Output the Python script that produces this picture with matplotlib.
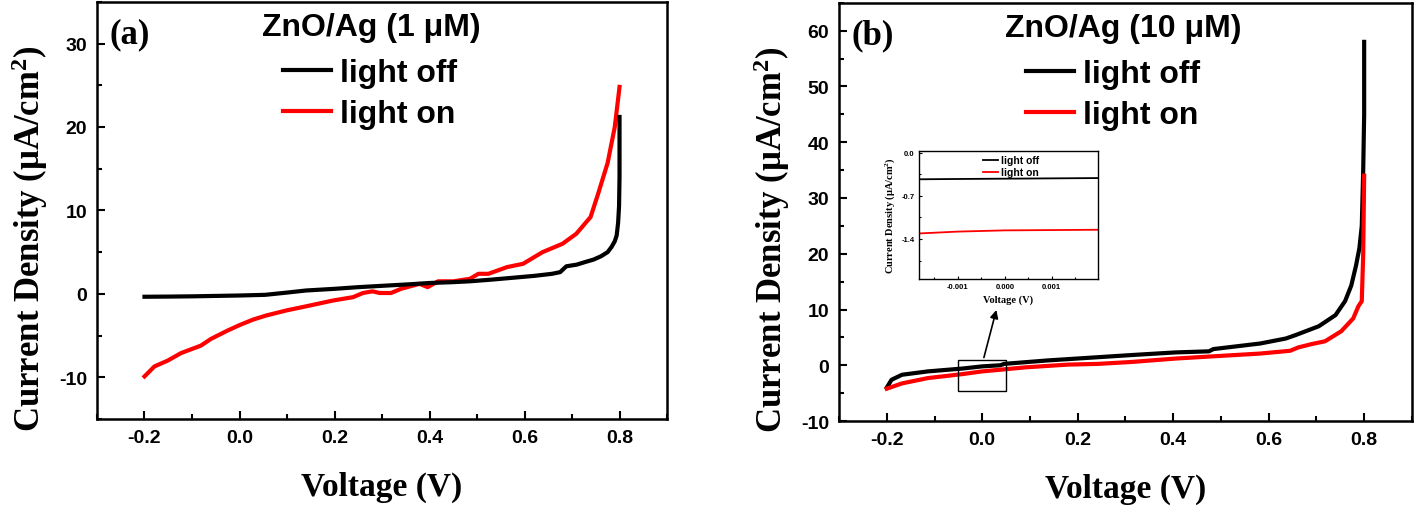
import matplotlib
matplotlib.use("Agg")
import matplotlib.pyplot as plt
from matplotlib.ticker import MultipleLocator, FormatStrFormatter
from matplotlib.patches import Rectangle

plt.rcParams['font.family'] = ['Liberation Sans', 'DejaVu Sans']
plt.rcParams['font.weight'] = 'bold'
plt.rcParams['axes.unicode_minus'] = False
plt.rcParams['mathtext.fontset'] = 'custom'
plt.rcParams['mathtext.rm'] = 'Liberation Serif:bold'
plt.rcParams['mathtext.it'] = 'Liberation Serif:bold'
plt.rcParams['mathtext.bf'] = 'Liberation Serif:bold'

# ---- panel (a): ZnO/Ag 1 uM ----
a_off_v = [-0.2, -0.15, -0.1, -0.05, 0.0, 0.054, 0.1, 0.14, 0.2, 0.25, 0.313, 0.36, 0.4, 0.45, 0.485,
           0.53, 0.57, 0.62, 0.658, 0.675, 0.688, 0.71, 0.727, 0.745, 0.761, 0.775, 0.783, 0.79,
           0.794, 0.797, 0.799, 0.8, 0.8]
a_off_j = [-0.35, -0.33, -0.3, -0.25, -0.2, -0.12, 0.15, 0.4, 0.6, 0.8, 1.0, 1.15, 1.3, 1.4, 1.5,
           1.7, 1.9, 2.15, 2.4, 2.6, 3.3, 3.5, 3.8, 4.1, 4.5, 5.0, 5.6, 6.3,
           7.0, 8.5, 10.5, 14.0, 21.2]
a_on_v = [-0.2, -0.179, -0.151, -0.123, -0.081, -0.06, -0.025, 0.0, 0.028, 0.056, 0.098, 0.14,
          0.197, 0.239, 0.26, 0.28, 0.295, 0.319, 0.34, 0.379, 0.396, 0.418, 0.45, 0.485, 0.503,
          0.524, 0.563, 0.597, 0.638, 0.68, 0.709, 0.739, 0.755, 0.775, 0.79, 0.8]
a_on_j = [-9.9, -8.7, -8.0, -7.1, -6.2, -5.4, -4.4, -3.75, -3.1, -2.6, -2.0, -1.5,
          -0.8, -0.4, 0.1, 0.3, 0.1, 0.1, 0.6, 1.2, 0.8, 1.5, 1.5, 1.8, 2.4,
          2.4, 3.2, 3.6, 5.0, 6.0, 7.2, 9.2, 12.0, 15.7, 20.0, 24.8]

# ---- panel (b): ZnO/Ag 10 uM ----
b_off_v = [-0.2, -0.19, -0.168, -0.114, -0.043, 0.0, 0.038, 0.046, 0.136, 0.225, 0.314, 0.404,
           0.475, 0.484, 0.582, 0.636, 0.656, 0.705, 0.74, 0.76, 0.773, 0.783, 0.79, 0.795,
           0.798, 0.8, 0.8]
b_off_j = [-4.0, -2.6, -1.7, -1.1, -0.6, -0.2, 0.0, 0.25, 0.86, 1.35, 1.84, 2.3,
           2.5, 2.9, 3.9, 4.8, 5.4, 7.0, 9.0, 11.5, 14.3, 17.9, 21.0, 25.0,
           35.0, 45.0, 58.0]
b_on_v = [-0.2, -0.168, -0.114, -0.043, 0.0, 0.091, 0.18, 0.243, 0.314, 0.404, 0.493, 0.582,
          0.62, 0.645, 0.662, 0.69, 0.718, 0.752, 0.777, 0.788, 0.795, 0.798, 0.8]
b_on_j = [-4.2, -3.25, -2.3, -1.6, -1.1, -0.37, 0.12, 0.25, 0.6, 1.2, 1.65, 2.1,
          2.4, 2.6, 3.2, 3.8, 4.3, 6.1, 8.4, 10.6, 11.5, 20.0, 34.0]

# ---- inset (zoom around 0 V of panel b) ----
in_v = [-0.00183, -0.001, 0.0, 0.001, 0.00198]
in_off_j = [-0.43, -0.425, -0.42, -0.415, -0.41]
in_on_j = [-1.31, -1.28, -1.26, -1.255, -1.25]

zoom_box = [-0.05, -4.6, 0.1, 5.5]      # x0, y0, width, height in data units
arrow_tail = (0.002, 0.9)
arrow_head = (0.031, 10.4)

titles = ['ZnO/Ag (1 μM)', 'ZnO/Ag (10 μM)']
panel_tags = ['(a)', '(b)']
labels = ['light off', 'light on']
colors = ['black', '#ff0000']

SERIF = 'Liberation Serif'
YLABEL = 'Current Density (μA/cm$^{2}$)'

fig = plt.figure(figsize=(14.18, 5.10), dpi=100)
ax_a = fig.add_axes([0.0684, 0.1765, 0.402, 0.818])
ax_b = fig.add_axes([0.5917, 0.1725, 0.404, 0.820])


def style_axes(ax, ylim, ymajor, yminor):
    ax.set_xlim(-0.3, 0.9)
    ax.set_ylim(*ylim)
    ax.xaxis.set_major_locator(MultipleLocator(0.2))
    ax.xaxis.set_minor_locator(MultipleLocator(0.1))
    ax.yaxis.set_major_locator(MultipleLocator(ymajor))
    ax.yaxis.set_minor_locator(MultipleLocator(yminor))
    ax.xaxis.set_major_formatter(FormatStrFormatter('%.1f'))
    ax.tick_params(which='both', direction='in', width=1.5, labelsize=14, pad=7,
                   top=False, right=False)
    ax.tick_params(which='major', length=6)
    ax.tick_params(which='minor', length=3.5)
    for s in ax.spines.values():
        s.set_linewidth(1.8)
    ax.set_xlabel('Voltage (V)', family=SERIF, fontsize=24, fontweight='bold', labelpad=18)
    ax.set_ylabel(YLABEL, family=SERIF, fontsize=25, fontweight='bold')
    ax.yaxis.set_label_coords(-0.082, 0.435)


for ax, (off_v, off_j, on_v, on_j), ttl, tag in zip(
        [ax_a, ax_b],
        [(a_off_v, a_off_j, a_on_v, a_on_j), (b_off_v, b_off_j, b_on_v, b_on_j)],
        titles, panel_tags):
    if ax is ax_a:
        ax.plot(on_v, on_j, color=colors[1], lw=3, label=labels[1], zorder=2)
        ax.plot(off_v, off_j, color=colors[0], lw=3, label=labels[0], zorder=3)
    else:
        ax.plot(off_v, off_j, color=colors[0], lw=3, label=labels[0], zorder=2)
        ax.plot(on_v, on_j, color=colors[1], lw=3, label=labels[1], zorder=3)
    h, l = ax.get_legend_handles_labels()
    order = [l.index(labels[0]), l.index(labels[1])]
    ax.legend([h[i] for i in order], [l[i] for i in order], loc='upper left',
              bbox_to_anchor=(0.326, 0.866), frameon=False, borderpad=0, borderaxespad=0,
              handlelength=1.5, handletextpad=0.3, labelspacing=0.35,
              prop={'family': 'Liberation Sans', 'weight': 'bold', 'size': 23})
    ax.text(0.289, 0.94, ttl, transform=ax.transAxes, fontsize=23, fontweight='bold',
            ha='left', va='center')
    ax.text(0.022, 0.924, tag, transform=ax.transAxes, family=SERIF, fontsize=25,
            fontweight='bold', ha='left', va='center')

style_axes(ax_a, (-15, 35), 10, 5)
style_axes(ax_b, (-10, 65), 10, 5)

# zoom box and arrow on panel b
ax_b.add_patch(Rectangle((zoom_box[0], zoom_box[1]), zoom_box[2], zoom_box[3],
                         fill=False, edgecolor='black', lw=1.0, zorder=4))
ax_b.annotate('', xy=arrow_head, xytext=arrow_tail,
              arrowprops=dict(arrowstyle='-|>', color='black', lw=1.2, mutation_scale=12))

# inset
ax_in = fig.add_axes([0.648, 0.451, 0.1262, 0.251])
ax_in.plot(in_v, in_off_j, color=colors[0], lw=1.3, label=labels[0])
ax_in.plot(in_v, in_on_j, color=colors[1], lw=1.3, label=labels[1])
ax_in.set_xlim(-0.00183, 0.00198)
ax_in.set_ylim(-2.05, 0.03)
ax_in.xaxis.set_major_locator(MultipleLocator(0.001))
ax_in.xaxis.set_minor_locator(MultipleLocator(0.0005))
ax_in.yaxis.set_major_locator(MultipleLocator(0.7))
ax_in.yaxis.set_minor_locator(MultipleLocator(0.35))
ax_in.xaxis.set_major_formatter(FormatStrFormatter('%.3f'))
ax_in.yaxis.set_major_formatter(FormatStrFormatter('%.1f'))
ax_in.tick_params(which='both', direction='in', width=0.8, labelsize=5.5, pad=3,
                  top=False, right=False)
ax_in.tick_params(which='major', length=2.5)
ax_in.tick_params(which='minor', length=1.5)
for s in ax_in.spines.values():
    s.set_linewidth(1.0)
ax_in.set_xlabel('Voltage (V)', family=SERIF, fontsize=7.5, fontweight='bold', labelpad=3)
ax_in.set_ylabel(YLABEL, family=SERIF, fontsize=7.5, fontweight='bold', labelpad=3)
ax_in.legend(loc='upper left', bbox_to_anchor=(0.355, 0.975), frameon=False, borderpad=0.1,
             borderaxespad=0, handlelength=1.4, handletextpad=0.3, labelspacing=0.2,
             prop={'family': 'Liberation Sans', 'weight': 'bold', 'size': 7.5})

fig.savefig('out.png', dpi=100)
